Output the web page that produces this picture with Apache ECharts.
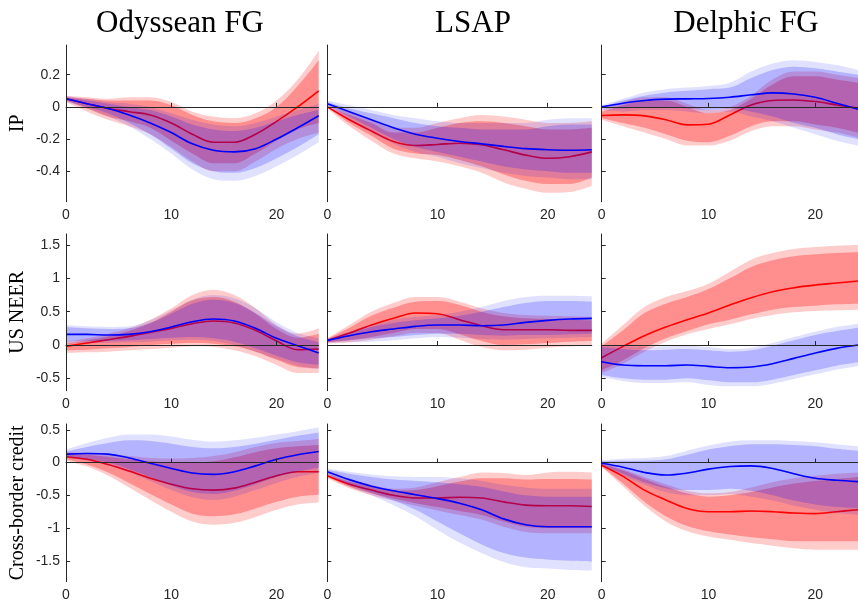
<!DOCTYPE html>
<html>
<head>
<meta charset="utf-8">
<script src="https://cdn.jsdelivr.net/npm/echarts@6/dist/echarts.min.js"></script>
<style>html,body{margin:0;padding:0;background:#fff}#c{width:858px;height:603px}</style>
</head>
<body>
<div id="c"></div>
<script>
// horizon (months)
const months = [0, 2, 4, 6, 8, 10, 12, 14, 16, 18, 20, 22, 24];
const xTickLabels = [0, 10, 20];
const colTitles = ['Odyssean FG', 'LSAP', 'Delphic FG'];
const rowNames = ['IP', 'US NEER', 'Cross-border credit'];
const rowRanges = [[-0.59, 0.385], [-0.685, 1.665], [-1.82, 0.59]];
const rowTicks = [[-0.4, -0.2, 0, 0.2], [-0.5, 0, 0.5, 1, 1.5], [-1.5, -1, -0.5, 0, 0.5]];

// ---------- IP, Odyssean FG ----------
const ip_ody_r        = [0.05, 0.02, -0.01, -0.03, -0.05, -0.10, -0.17, -0.22, -0.22, -0.17, -0.09, 0.00, 0.10];
const ip_ody_r_out_hi = [0.07, 0.06, 0.05, 0.06, 0.06, 0.03, -0.03, -0.06, -0.07, -0.04, 0.04, 0.17, 0.35];
const ip_ody_r_in_hi  = [0.06, 0.05, 0.04, 0.04, 0.04, 0.01, -0.05, -0.09, -0.10, -0.07, 0.00, 0.13, 0.29];
const ip_ody_r_in_lo  = [0.04, -0.01, -0.06, -0.09, -0.13, -0.21, -0.29, -0.35, -0.35, -0.29, -0.21, -0.14, -0.10];
const ip_ody_r_out_lo = [0.03, -0.03, -0.08, -0.12, -0.17, -0.25, -0.34, -0.40, -0.40, -0.34, -0.26, -0.20, -0.16];
const ip_ody_b        = [0.05, 0.02, -0.01, -0.05, -0.10, -0.16, -0.23, -0.27, -0.28, -0.26, -0.20, -0.13, -0.055];
const ip_ody_b_out_hi = [0.07, 0.05, 0.03, 0.02, 0.00, -0.04, -0.08, -0.11, -0.12, -0.10, -0.06, -0.02, 0.02];
const ip_ody_b_in_hi  = [0.06, 0.04, 0.02, 0.00, -0.02, -0.06, -0.11, -0.14, -0.15, -0.13, -0.09, -0.05, -0.02];
const ip_ody_b_in_lo  = [0.04, 0.00, -0.04, -0.10, -0.17, -0.26, -0.35, -0.40, -0.41, -0.38, -0.32, -0.25, -0.17];
const ip_ody_b_out_lo = [0.03, -0.01, -0.06, -0.12, -0.20, -0.29, -0.39, -0.45, -0.46, -0.43, -0.37, -0.30, -0.22];

// ---------- IP, LSAP ----------
const ip_lsap_r        = [0.0, -0.08, -0.15, -0.215, -0.24, -0.234, -0.226, -0.236, -0.267, -0.30, -0.32, -0.31, -0.28];
const ip_lsap_r_out_hi = [0.01, -0.03, -0.08, -0.13, -0.13, -0.10, -0.07, -0.05, -0.06, -0.08, -0.10, -0.10, -0.09];
const ip_lsap_r_in_hi  = [0.0, -0.05, -0.10, -0.16, -0.16, -0.13, -0.10, -0.09, -0.10, -0.12, -0.14, -0.14, -0.13];
const ip_lsap_r_in_lo  = [0.0, -0.10, -0.18, -0.26, -0.29, -0.30, -0.33, -0.37, -0.42, -0.46, -0.48, -0.48, -0.44];
const ip_lsap_r_out_lo = [-0.01, -0.12, -0.21, -0.29, -0.32, -0.34, -0.37, -0.41, -0.47, -0.51, -0.535, -0.53, -0.49];
const ip_lsap_b        = [0.02, -0.03, -0.08, -0.13, -0.17, -0.195, -0.215, -0.23, -0.246, -0.26, -0.267, -0.27, -0.267];
const ip_lsap_b_out_hi = [0.04, 0.01, -0.02, -0.05, -0.07, -0.09, -0.10, -0.10, -0.10, -0.10, -0.08, -0.07, -0.07];
const ip_lsap_b_in_hi  = [0.03, -0.01, -0.04, -0.07, -0.10, -0.12, -0.13, -0.14, -0.14, -0.14, -0.12, -0.11, -0.11];
const ip_lsap_b_in_lo  = [0.01, -0.06, -0.13, -0.20, -0.25, -0.28, -0.31, -0.34, -0.37, -0.39, -0.40, -0.41, -0.41];
const ip_lsap_b_out_lo = [0.0, -0.08, -0.16, -0.23, -0.28, -0.31, -0.35, -0.38, -0.41, -0.43, -0.44, -0.45, -0.45];

// ---------- IP, Delphic FG ----------
const ip_del_r        = [-0.054, -0.05, -0.056, -0.08, -0.112, -0.108, -0.05, 0.012, 0.04, 0.043, 0.033, 0.012, -0.008];
const ip_del_r_out_hi = [-0.02, 0.03, 0.06, 0.06, 0.02, -0.02, 0.0, 0.07, 0.17, 0.22, 0.22, 0.20, 0.18];
const ip_del_r_in_hi  = [-0.03, 0.01, 0.04, 0.04, 0.0, -0.04, -0.02, 0.05, 0.14, 0.19, 0.19, 0.17, 0.15];
const ip_del_r_in_lo  = [-0.07, -0.10, -0.13, -0.17, -0.21, -0.22, -0.18, -0.12, -0.09, -0.09, -0.11, -0.13, -0.16];
const ip_del_r_out_lo = [-0.08, -0.12, -0.16, -0.20, -0.24, -0.24, -0.21, -0.15, -0.12, -0.12, -0.14, -0.16, -0.19];
const ip_del_b        = [0.0, 0.023, 0.04, 0.048, 0.05, 0.052, 0.06, 0.075, 0.087, 0.08, 0.06, 0.023, -0.015];
const ip_del_b_out_hi = [0.01, 0.05, 0.09, 0.11, 0.12, 0.13, 0.15, 0.22, 0.27, 0.29, 0.28, 0.26, 0.23];
const ip_del_b_in_hi  = [0.0, 0.04, 0.07, 0.09, 0.10, 0.11, 0.12, 0.18, 0.23, 0.25, 0.24, 0.22, 0.20];
const ip_del_b_in_lo  = [-0.01, -0.01, 0.0, 0.0, -0.01, -0.02, -0.01, -0.03, -0.06, -0.10, -0.13, -0.17, -0.20];
const ip_del_b_out_lo = [-0.02, -0.03, -0.02, -0.02, -0.03, -0.04, -0.03, -0.06, -0.09, -0.13, -0.17, -0.21, -0.24];

// ---------- US NEER, Odyssean FG ----------
const neer_ody_r        = [-0.02, 0.03, 0.08, 0.13, 0.19, 0.25, 0.32, 0.36, 0.33, 0.22, 0.06, -0.07, -0.06];
const neer_ody_r_out_hi = [0.05, 0.10, 0.17, 0.25, 0.38, 0.55, 0.75, 0.83, 0.75, 0.55, 0.30, 0.17, 0.25];
const neer_ody_r_in_hi  = [0.02, 0.07, 0.13, 0.21, 0.33, 0.50, 0.67, 0.72, 0.65, 0.47, 0.24, 0.11, 0.17];
const neer_ody_r_in_lo  = [-0.08, -0.07, -0.05, -0.03, 0.0, 0.02, 0.03, 0.02, -0.02, -0.10, -0.22, -0.33, -0.35];
const neer_ody_r_out_lo = [-0.12, -0.11, -0.10, -0.08, -0.06, -0.04, -0.02, -0.03, -0.08, -0.17, -0.30, -0.42, -0.42];
const neer_ody_b        = [0.16, 0.16, 0.15, 0.16, 0.20, 0.27, 0.35, 0.39, 0.36, 0.25, 0.10, -0.01, -0.12];
const neer_ody_b_out_hi = [0.30, 0.28, 0.27, 0.28, 0.37, 0.52, 0.68, 0.75, 0.70, 0.55, 0.34, 0.18, 0.10];
const neer_ody_b_in_hi  = [0.27, 0.25, 0.24, 0.25, 0.33, 0.47, 0.62, 0.68, 0.63, 0.48, 0.28, 0.13, 0.04];
const neer_ody_b_in_lo  = [0.05, 0.06, 0.06, 0.07, 0.09, 0.11, 0.12, 0.10, 0.05, -0.05, -0.16, -0.26, -0.30];
const neer_ody_b_out_lo = [0.02, 0.03, 0.03, 0.04, 0.05, 0.07, 0.08, 0.06, 0.0, -0.10, -0.21, -0.31, -0.36];

// ---------- US NEER, LSAP ----------
const neer_lsap_r        = [0.065, 0.18, 0.30, 0.40, 0.48, 0.47, 0.38, 0.29, 0.23, 0.23, 0.23, 0.22, 0.22];
const neer_lsap_r_out_hi = [0.10, 0.30, 0.50, 0.63, 0.72, 0.72, 0.65, 0.55, 0.48, 0.45, 0.44, 0.43, 0.42];
const neer_lsap_r_in_hi  = [0.09, 0.26, 0.44, 0.56, 0.65, 0.66, 0.60, 0.50, 0.43, 0.40, 0.39, 0.38, 0.37];
const neer_lsap_r_in_lo  = [0.04, 0.07, 0.12, 0.18, 0.24, 0.24, 0.16, 0.06, 0.0, 0.01, 0.03, 0.05, 0.06];
const neer_lsap_r_out_lo = [0.02, 0.04, 0.08, 0.13, 0.18, 0.18, 0.08, -0.03, -0.08, -0.07, -0.04, -0.02, 0.0];
const neer_lsap_b        = [0.07, 0.14, 0.20, 0.24, 0.28, 0.30, 0.30, 0.29, 0.30, 0.34, 0.37, 0.39, 0.40];
const neer_lsap_b_out_hi = [0.10, 0.20, 0.30, 0.38, 0.42, 0.45, 0.50, 0.57, 0.66, 0.72, 0.74, 0.74, 0.73];
const neer_lsap_b_in_hi  = [0.09, 0.18, 0.27, 0.33, 0.37, 0.40, 0.44, 0.50, 0.57, 0.63, 0.66, 0.66, 0.65];
const neer_lsap_b_in_lo  = [0.04, 0.07, 0.10, 0.12, 0.15, 0.17, 0.17, 0.15, 0.14, 0.15, 0.15, 0.16, 0.17];
const neer_lsap_b_out_lo = [0.03, 0.04, 0.05, 0.07, 0.10, 0.12, 0.11, 0.09, 0.08, 0.09, 0.10, 0.11, 0.12];

// ---------- US NEER, Delphic FG ----------
const neer_del_r        = [-0.19, -0.02, 0.14, 0.27, 0.38, 0.48, 0.60, 0.71, 0.80, 0.86, 0.90, 0.93, 0.96];
const neer_del_r_out_hi = [0.02, 0.30, 0.57, 0.72, 0.81, 0.92, 1.10, 1.28, 1.38, 1.44, 1.47, 1.49, 1.50];
const neer_del_r_in_hi  = [-0.02, 0.22, 0.48, 0.62, 0.72, 0.84, 1.00, 1.17, 1.27, 1.33, 1.36, 1.38, 1.39];
const neer_del_r_in_lo  = [-0.38, -0.23, -0.05, 0.10, 0.21, 0.31, 0.38, 0.46, 0.53, 0.57, 0.59, 0.61, 0.62];
const neer_del_r_out_lo = [-0.42, -0.28, -0.10, 0.05, 0.16, 0.24, 0.31, 0.39, 0.45, 0.49, 0.51, 0.52, 0.53];
const neer_del_b        = [-0.25, -0.30, -0.31, -0.31, -0.30, -0.32, -0.34, -0.33, -0.28, -0.20, -0.12, -0.05, 0.0];
const neer_del_b_out_hi = [0.0, -0.02, -0.03, -0.02, -0.01, -0.03, -0.06, -0.04, 0.03, 0.12, 0.20, 0.27, 0.32];
const neer_del_b_in_hi  = [-0.03, -0.06, -0.08, -0.07, -0.06, -0.08, -0.10, -0.08, -0.01, 0.07, 0.15, 0.21, 0.26];
const neer_del_b_in_lo  = [-0.45, -0.50, -0.52, -0.52, -0.50, -0.53, -0.56, -0.56, -0.52, -0.45, -0.38, -0.31, -0.26];
const neer_del_b_out_lo = [-0.48, -0.54, -0.57, -0.57, -0.56, -0.60, -0.62, -0.62, -0.58, -0.51, -0.44, -0.37, -0.32];

// ---------- Cross-border credit, Odyssean FG ----------
const cbc_ody_r        = [0.09, 0.05, -0.03, -0.13, -0.24, -0.33, -0.40, -0.42, -0.39, -0.30, -0.20, -0.14, -0.14];
const cbc_ody_r_out_hi = [0.16, 0.15, 0.13, 0.10, 0.07, 0.06, 0.07, 0.10, 0.16, 0.24, 0.30, 0.33, 0.36];
const cbc_ody_r_in_hi  = [0.14, 0.12, 0.09, 0.05, 0.02, 0.0, 0.0, 0.02, 0.08, 0.16, 0.22, 0.25, 0.27];
const cbc_ody_r_in_lo  = [0.05, -0.03, -0.15, -0.31, -0.48, -0.64, -0.78, -0.82, -0.79, -0.70, -0.60, -0.52, -0.49];
const cbc_ody_r_out_lo = [0.03, -0.06, -0.20, -0.38, -0.57, -0.75, -0.90, -0.95, -0.92, -0.83, -0.72, -0.64, -0.61];
const cbc_ody_b        = [0.13, 0.14, 0.13, 0.07, -0.01, -0.09, -0.16, -0.18, -0.14, -0.05, 0.05, 0.12, 0.17];
const cbc_ody_b_out_hi = [0.20, 0.30, 0.38, 0.43, 0.43, 0.40, 0.35, 0.32, 0.34, 0.38, 0.43, 0.48, 0.54];
const cbc_ody_b_in_hi  = [0.17, 0.24, 0.30, 0.34, 0.33, 0.29, 0.24, 0.22, 0.24, 0.29, 0.35, 0.41, 0.46];
const cbc_ody_b_in_lo  = [0.09, 0.06, 0.0, -0.10, -0.22, -0.35, -0.45, -0.48, -0.43, -0.33, -0.22, -0.14, -0.08];
const cbc_ody_b_out_lo = [0.07, 0.03, -0.04, -0.15, -0.28, -0.42, -0.53, -0.57, -0.52, -0.42, -0.31, -0.22, -0.16];

// ---------- Cross-border credit, LSAP ----------
const cbc_lsap_r        = [-0.20, -0.33, -0.42, -0.50, -0.54, -0.54, -0.53, -0.54, -0.60, -0.65, -0.66, -0.66, -0.67];
const cbc_lsap_r_out_hi = [-0.16, -0.26, -0.34, -0.40, -0.38, -0.30, -0.22, -0.15, -0.16, -0.19, -0.15, -0.14, -0.15];
const cbc_lsap_r_in_hi  = [-0.18, -0.29, -0.37, -0.43, -0.42, -0.36, -0.29, -0.24, -0.24, -0.26, -0.25, -0.25, -0.26];
const cbc_lsap_r_in_lo  = [-0.22, -0.37, -0.47, -0.55, -0.62, -0.68, -0.74, -0.80, -0.90, -0.98, -1.00, -1.00, -1.00];
const cbc_lsap_r_out_lo = [-0.24, -0.39, -0.50, -0.58, -0.66, -0.73, -0.80, -0.87, -0.98, -1.06, -1.08, -1.08, -1.08];
const cbc_lsap_b        = [-0.14, -0.26, -0.36, -0.43, -0.49, -0.55, -0.62, -0.72, -0.86, -0.95, -0.98, -0.98, -0.98];
const cbc_lsap_b_out_hi = [-0.09, -0.14, -0.18, -0.21, -0.22, -0.22, -0.24, -0.28, -0.34, -0.38, -0.40, -0.40, -0.40];
const cbc_lsap_b_in_hi  = [-0.11, -0.17, -0.22, -0.26, -0.28, -0.30, -0.33, -0.37, -0.44, -0.50, -0.52, -0.52, -0.52];
const cbc_lsap_b_in_lo  = [-0.17, -0.33, -0.46, -0.58, -0.72, -0.90, -1.08, -1.25, -1.38, -1.45, -1.48, -1.50, -1.51];
const cbc_lsap_b_out_lo = [-0.19, -0.36, -0.50, -0.65, -0.82, -1.03, -1.22, -1.38, -1.52, -1.60, -1.62, -1.64, -1.65];

// ---------- Cross-border credit, Delphic FG ----------
const cbc_del_r        = [-0.04, -0.21, -0.42, -0.57, -0.70, -0.75, -0.75, -0.74, -0.75, -0.77, -0.78, -0.75, -0.72];
const cbc_del_r_out_hi = [-0.01, -0.10, -0.22, -0.33, -0.43, -0.47, -0.45, -0.38, -0.30, -0.24, -0.20, -0.17, -0.15];
const cbc_del_r_in_hi  = [-0.02, -0.12, -0.25, -0.37, -0.47, -0.52, -0.50, -0.45, -0.38, -0.32, -0.28, -0.25, -0.22];
const cbc_del_r_in_lo  = [-0.06, -0.32, -0.60, -0.82, -0.97, -1.05, -1.10, -1.14, -1.17, -1.20, -1.20, -1.20, -1.20];
const cbc_del_r_out_lo = [-0.07, -0.36, -0.66, -0.90, -1.05, -1.13, -1.18, -1.23, -1.27, -1.31, -1.33, -1.33, -1.33];
const cbc_del_b        = [-0.01, -0.07, -0.15, -0.19, -0.16, -0.10, -0.06, -0.05, -0.09, -0.17, -0.24, -0.27, -0.29];
const cbc_del_b_out_hi = [0.04, 0.06, 0.07, 0.10, 0.18, 0.26, 0.32, 0.34, 0.34, 0.33, 0.31, 0.28, 0.25];
const cbc_del_b_in_hi  = [0.02, 0.03, 0.03, 0.05, 0.12, 0.20, 0.25, 0.28, 0.28, 0.27, 0.25, 0.21, 0.18];
const cbc_del_b_in_lo  = [-0.03, -0.17, -0.30, -0.39, -0.42, -0.42, -0.40, -0.43, -0.50, -0.58, -0.64, -0.68, -0.70];
const cbc_del_b_out_lo = [-0.04, -0.20, -0.34, -0.45, -0.50, -0.50, -0.48, -0.52, -0.58, -0.66, -0.72, -0.77, -0.80];

// panel table (row-major), built from the arrays above
const panelData = [
  [ip_ody_r, ip_ody_r_in_lo, ip_ody_r_in_hi, ip_ody_r_out_lo, ip_ody_r_out_hi, ip_ody_b, ip_ody_b_in_lo, ip_ody_b_in_hi, ip_ody_b_out_lo, ip_ody_b_out_hi],
  [ip_lsap_r, ip_lsap_r_in_lo, ip_lsap_r_in_hi, ip_lsap_r_out_lo, ip_lsap_r_out_hi, ip_lsap_b, ip_lsap_b_in_lo, ip_lsap_b_in_hi, ip_lsap_b_out_lo, ip_lsap_b_out_hi],
  [ip_del_r, ip_del_r_in_lo, ip_del_r_in_hi, ip_del_r_out_lo, ip_del_r_out_hi, ip_del_b, ip_del_b_in_lo, ip_del_b_in_hi, ip_del_b_out_lo, ip_del_b_out_hi],
  [neer_ody_r, neer_ody_r_in_lo, neer_ody_r_in_hi, neer_ody_r_out_lo, neer_ody_r_out_hi, neer_ody_b, neer_ody_b_in_lo, neer_ody_b_in_hi, neer_ody_b_out_lo, neer_ody_b_out_hi],
  [neer_lsap_r, neer_lsap_r_in_lo, neer_lsap_r_in_hi, neer_lsap_r_out_lo, neer_lsap_r_out_hi, neer_lsap_b, neer_lsap_b_in_lo, neer_lsap_b_in_hi, neer_lsap_b_out_lo, neer_lsap_b_out_hi],
  [neer_del_r, neer_del_r_in_lo, neer_del_r_in_hi, neer_del_r_out_lo, neer_del_r_out_hi, neer_del_b, neer_del_b_in_lo, neer_del_b_in_hi, neer_del_b_out_lo, neer_del_b_out_hi],
  [cbc_ody_r, cbc_ody_r_in_lo, cbc_ody_r_in_hi, cbc_ody_r_out_lo, cbc_ody_r_out_hi, cbc_ody_b, cbc_ody_b_in_lo, cbc_ody_b_in_hi, cbc_ody_b_out_lo, cbc_ody_b_out_hi],
  [cbc_lsap_r, cbc_lsap_r_in_lo, cbc_lsap_r_in_hi, cbc_lsap_r_out_lo, cbc_lsap_r_out_hi, cbc_lsap_b, cbc_lsap_b_in_lo, cbc_lsap_b_in_hi, cbc_lsap_b_out_lo, cbc_lsap_b_out_hi],
  [cbc_del_r, cbc_del_r_in_lo, cbc_del_r_in_hi, cbc_del_r_out_lo, cbc_del_r_out_hi, cbc_del_b, cbc_del_b_in_lo, cbc_del_b_in_hi, cbc_del_b_out_lo, cbc_del_b_out_hi]
];

// layout
const colLeft = [66, 327.3, 601.7];
const colWidth = [252.7, 264.5, 264];
const rowTop = [45, 234, 424];
const rowHeight = [156.7, 156.7, 157.7];
const titleCenters = [180, 473, 746];

const AX = '#262626';
const SANS = '"Liberation Sans", Arial, sans-serif';
const SERIF = '"Liberation Serif", "Times New Roman", serif';
const SM = 0.35;

const grids = [], xAxes = [], yAxes = [], series = [];
for (let r = 0; r < 3; r++) {
  for (let c = 0; c < 3; c++) {
    const gi = r * 3 + c;
    grids.push({left: colLeft[c], top: rowTop[r], width: colWidth[c], height: rowHeight[r], containLabel: false});
    const showX = (idx, val) => xTickLabels.indexOf(Number(val)) >= 0;
    xAxes.push({
      type: 'category', gridIndex: gi, data: months.map(String), boundaryGap: false, z: 8,
      axisLine: {show: true, lineStyle: {color: AX, width: 1}},
      axisTick: {show: true, inside: true, length: 4, interval: showX, lineStyle: {color: AX}},
      axisLabel: {show: true, interval: showX, margin: 6, fontFamily: SANS, fontSize: 14, color: AX},
      splitLine: {show: false}
    });
    const y = {
      type: 'value', gridIndex: gi, min: rowRanges[r][0], max: rowRanges[r][1], z: 8,
      axisLine: {show: true, lineStyle: {color: AX, width: 1}},
      axisTick: {show: true, inside: true, length: 4, customValues: rowTicks[r], lineStyle: {color: AX}},
      axisLabel: {show: c === 0, customValues: rowTicks[r], margin: 6, fontFamily: SANS, fontSize: 14, color: AX},
      splitLine: {show: false}
    };
    if (c === 0) {
      Object.assign(y, {name: rowNames[r], nameLocation: 'middle', nameRotate: 90, nameGap: 38,
        nameTextStyle: {fontFamily: SERIF, fontSize: 20, color: '#000'}});
    }
    yAxes.push(y);

    const d = panelData[gi];
    const base = {type: 'line', xAxisIndex: gi, yAxisIndex: gi, symbol: 'none', smooth: SM, silent: true, animation: false};
    const band = (lo, hi, color, id, z) => [
      Object.assign({}, base, {z: z, stack: id, stackStrategy: 'all', data: lo, lineStyle: {width: 0, opacity: 0}}),
      Object.assign({}, base, {z: z, stack: id, stackStrategy: 'all', data: hi.map((v, i) => +(v - lo[i]).toFixed(4)),
        lineStyle: {width: 0, opacity: 0}, areaStyle: {color: color, opacity: 1}})
    ];
    // red: outer, inner, line
    series.push(...band(d[3], d[4], 'rgba(255,0,0,0.2)', 'ro' + gi, 2));
    series.push(...band(d[1], d[2], 'rgba(255,0,0,0.3)', 'ri' + gi, 3));
    series.push(Object.assign({}, base, {z: 4, data: d[0], lineStyle: {color: '#ff0000', width: 1.6}, itemStyle: {color: '#ff0000'}}));
    // blue: outer, inner, line
    series.push(...band(d[8], d[9], 'rgba(0,0,255,0.12)', 'bo' + gi, 5));
    series.push(...band(d[6], d[7], 'rgba(0,0,255,0.2)', 'bi' + gi, 6));
    series.push(Object.assign({}, base, {z: 7, data: d[5], lineStyle: {color: '#0000ff', width: 1.6}, itemStyle: {color: '#0000ff'},
      markLine: {silent: true, symbol: 'none', animation: false, label: {show: false},
        lineStyle: {color: '#111', width: 1, type: 'solid'}, data: [{yAxis: 0}]}}));
  }
}

const titles = colTitles.map((t, i) => ({
  text: t, left: titleCenters[i], top: 8, textAlign: 'center', padding: 0,
  textStyle: {fontFamily: SERIF, fontSize: 31, fontWeight: 'normal', color: '#000'}
}));

const chart = echarts.init(document.getElementById('c'), null, {renderer: 'canvas'});
chart.setOption({
  animation: false,
  backgroundColor: '#fff',
  title: titles,
  grid: grids,
  xAxis: xAxes,
  yAxis: yAxes,
  series: series
});
</script>
</body>
</html>
